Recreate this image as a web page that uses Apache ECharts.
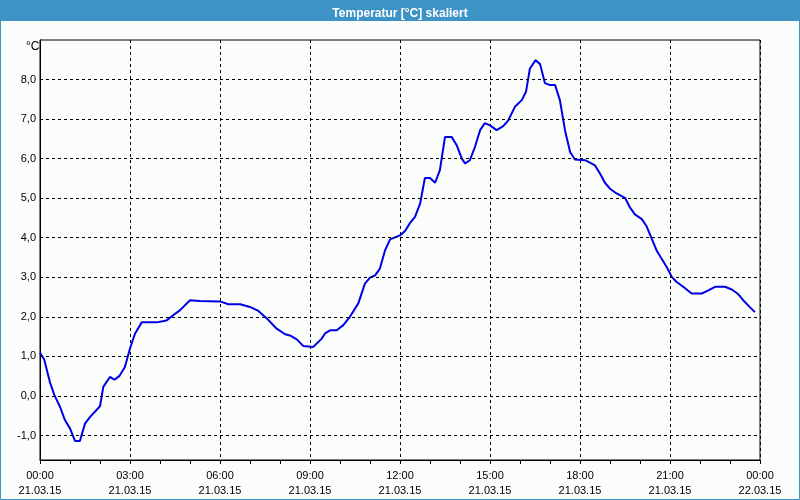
<!DOCTYPE html>
<html>
<head>
<meta charset="utf-8">
<script src="https://cdn.jsdelivr.net/npm/echarts@6/dist/echarts.min.js"></script>
<style>html,body{margin:0;padding:0;background:#fbfdfb}#c{width:800px;height:500px}</style>
</head>
<body>
<div id="c"></div>
<script>
const chartTitle = 'Temperatur [°C] skaliert';
const unitLabel = '°C';
// time of day in hours (21.03.15)
const hours = [0.00,0.14,0.33,0.48,0.67,0.83,1.00,1.17,1.33,1.50,1.67,2.00,2.11,2.33,2.48,2.64,2.83,3.00,3.17,3.39,3.89,4.22,4.44,4.67,5.00,5.33,6.00,6.28,6.67,7.00,7.28,7.56,7.89,8.17,8.33,8.56,8.78,9.11,9.39,9.50,9.67,9.89,10.11,10.33,10.61,10.83,11.00,11.17,11.33,11.50,11.67,12.00,12.17,12.33,12.50,12.67,12.83,13.00,13.17,13.33,13.50,13.72,13.89,14.06,14.17,14.33,14.50,14.67,14.83,15.00,15.22,15.44,15.61,15.83,16.06,16.20,16.33,16.52,16.67,16.83,17.00,17.17,17.33,17.50,17.67,17.83,18.17,18.50,18.67,18.83,19.00,19.22,19.50,19.67,19.83,20.06,20.22,20.39,20.56,20.72,20.89,21.06,21.22,21.44,21.72,22.06,22.28,22.50,22.83,23.06,23.28,23.44,23.67,23.83];
const temps = [1.09,0.92,0.35,0.02,-0.28,-0.61,-0.82,-1.14,-1.14,-0.70,-0.53,-0.26,0.23,0.48,0.41,0.50,0.73,1.20,1.58,1.86,1.86,1.91,2.04,2.17,2.42,2.40,2.39,2.32,2.32,2.25,2.15,1.96,1.70,1.56,1.53,1.43,1.26,1.24,1.45,1.58,1.66,1.66,1.79,2.00,2.34,2.84,2.99,3.05,3.22,3.68,3.96,4.06,4.17,4.37,4.53,4.86,5.51,5.51,5.39,5.71,6.55,6.55,6.34,6.00,5.88,5.96,6.30,6.72,6.90,6.84,6.72,6.82,6.97,7.31,7.48,7.69,8.28,8.49,8.39,7.91,7.86,7.86,7.48,6.72,6.17,5.98,5.96,5.83,5.62,5.39,5.24,5.12,5.01,4.76,4.59,4.47,4.29,3.98,3.67,3.47,3.26,3.01,2.88,2.76,2.59,2.59,2.67,2.76,2.76,2.69,2.57,2.42,2.24,2.12];
const yTickValues = [-1,0,1,2,3,4,5,6,7,8];
const yTickLabels = ['-1,0','0,0','1,0','2,0','3,0','4,0','5,0','6,0','7,0','8,0'];
const xTickValues = [0,3,6,9,12,15,18,21,24];
const xTickLabels = ['00:00\n21.03.15','03:00\n21.03.15','06:00\n21.03.15','09:00\n21.03.15','12:00\n21.03.15','15:00\n21.03.15','18:00\n21.03.15','21:00\n21.03.15','00:00\n22.03.15'];
const yMin = -1.62, yMax = 9.0;

const font = 'Liberation Sans';
const chart = echarts.init(document.getElementById('c'), null, {renderer:'canvas'});
chart.setOption({
  animation: false,
  backgroundColor: '#fbfdfb',
  graphic: [
    {type:'rect', z:0, shape:{x:0,y:0,width:800,height:21}, style:{fill:'#3d93c5'}},
    {type:'rect', z:0, shape:{x:0.5,y:0.5,width:799,height:499}, style:{fill:null, stroke:'#3d93c5', lineWidth:1}}
  ],
  title: [
    {text: chartTitle, left:'center', top:3, textStyle:{color:'#ffffff', fontWeight:'bold', fontSize:12, fontFamily:font}},
    {text: unitLabel, left:21, top:36, textStyle:{color:'#000', fontWeight:'normal', fontSize:12, fontFamily:font}}
  ],
  grid: {left:40, right:40, top:40, bottom:40, show:true, borderColor:'#000', borderWidth:1, backgroundColor:'#fbfdfb'},
  xAxis: {
    type:'value', min:0, max:24, interval:3,
    axisLine:{show:true, onZero:false, lineStyle:{color:'#000', width:1}},
    axisTick:{show:true, length:4, lineStyle:{color:'#000'}},
    minorTick:{show:true, splitNumber:3, length:4, lineStyle:{color:'#000'}},
    splitLine:{show:true, lineStyle:{color:'#000', type:[3,3], width:1}},
    axisLabel:{
      margin:8, color:'#000', fontSize:11, fontFamily:font, lineHeight:15,
      formatter: v => { const i = xTickValues.indexOf(v); return i >= 0 ? xTickLabels[i] : ''; }
    }
  },
  yAxis: {
    type:'value', min:yMin, max:yMax,
    axisLine:{show:true, onZero:false, lineStyle:{color:'#000', width:1}},
    axisTick:{show:false},
    splitLine:{show:false},
    axisLabel:{
      customValues: yTickValues, margin:4, color:'#000', fontSize:11, fontFamily:font,
      formatter: v => { const i = yTickValues.indexOf(Math.round(v)); return i >= 0 ? yTickLabels[i] : ''; }
    }
  },
  series: [
    {
      type:'line', z:1, data:[], silent:true,
      markLine:{
        silent:true, symbol:['none','none'], label:{show:false},
        lineStyle:{color:'#000', type:[3,3], width:1},
        data: yTickValues.map(v => ({yAxis:v}))
      }
    },
    {
      type:'line', z:3, symbol:'none', smooth:false,
      lineStyle:{color:'#0000e6', width:2},
      data: hours.map((h,i) => [h, temps[i]])
    }
  ]
});
</script>
</body>
</html>
